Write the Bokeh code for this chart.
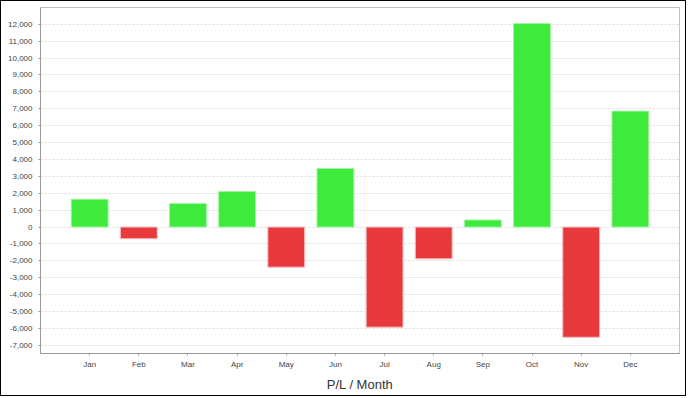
from bokeh.plotting import figure
from bokeh.models import ColumnDataSource, Range1d, SingleIntervalTicker, NumeralTickFormatter, FactorRange
from bokeh.embed import file_html
from bokeh.resources import INLINE

months = ["Jan", "Feb", "Mar", "Apr", "May", "Jun", "Jul", "Aug", "Sep", "Oct", "Nov", "Dec"]
pl_values = [1650, -690, 1390, 2100, -2370, 3470, -5920, -1880, 420, 12040, -6520, 6860]
axis_title = "P/L / Month"

GREEN = "#3EEA3C"
RED = "#E8393C"
GREEN_EDGE = "#A6F3A4"
RED_EDGE = "#F4BDBE"

fills = [GREEN if v >= 0 else RED for v in pl_values]
edges = [GREEN_EDGE if v >= 0 else RED_EDGE for v in pl_values]
source = ColumnDataSource(dict(month=months, value=pl_values, fill=fills, edge=edges))

p = figure(
    width=686, height=396,
    x_range=FactorRange(factors=months, range_padding=0.5, range_padding_units="absolute"),
    y_range=Range1d(-7480, 12990),
    output_backend="svg", toolbar_location=None, tools="",
    min_border_left=39, min_border_right=8, min_border_top=6, min_border_bottom=44,
)
p.styles = {"border": "1px solid black"}
p.background_fill_color = "white"
p.border_fill_color = "white"
p.outline_line_color = "#C0C0C0"
p.outline_line_width = 1

p.vbar(x="month", top="value", bottom=0, width=0.75, source=source,
       fill_color="fill", line_color="edge", line_width=1)

# grid
p.xgrid.grid_line_color = None
p.ygrid.grid_line_color = "#DADADA"
p.ygrid.grid_line_dash = "2 2"
p.ygrid.grid_line_width = 1
p.yaxis.ticker = SingleIntervalTicker(interval=1000)
p.yaxis.formatter = NumeralTickFormatter(format="0,0")

for ax in (p.xaxis, p.yaxis):
    ax.axis_line_color = "#999999"
    ax.major_tick_line_color = "#999999"
    ax.minor_tick_line_color = None
    ax.major_tick_in = 0
    ax.major_tick_out = 2
    ax.major_label_text_font = "Liberation Sans"
    ax.major_label_text_font_size = "8px"
    ax.major_label_text_color = "#444444"

p.yaxis.major_label_standoff = 4
p.xaxis.major_label_standoff = 4
p.xaxis.axis_label = axis_title
p.xaxis.axis_label_text_font = "Liberation Sans"
p.xaxis.axis_label_text_font_size = "13px"
p.xaxis.axis_label_text_font_style = "normal"
p.xaxis.axis_label_text_color = "#333333"
p.xaxis.axis_label_standoff = 5

open("out.html", "w").write(file_html(p, INLINE))
